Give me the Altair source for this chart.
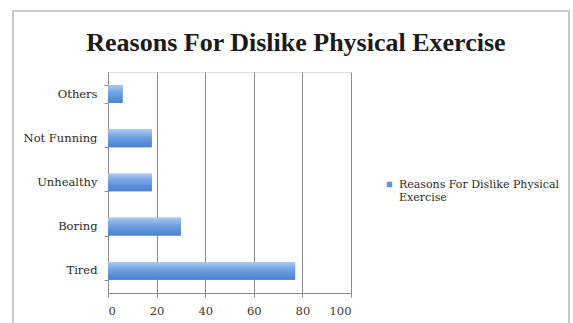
import altair as alt
import pandas as pd

categories = ["Tired", "Boring", "Unhealthy", "Not Funning", "Others"]
values = [77, 30, 18, 18, 6]
series_name = "Reasons For Dislike Physical Exercise"
x_ticks = [0, 20, 40, 60, 80, 100]

df = pd.DataFrame({"reason": categories, "count": values, "series": series_name})
order = list(reversed(categories))

serif = "Liberation Serif"
lab = "DejaVu Serif"

y_enc = alt.Y("reason:N", sort=order, title=None,
              scale=alt.Scale(paddingInner=0.6, paddingOuter=0.3),
              axis=alt.Axis(labelFont=lab, labelFontSize=11.5, labelColor="#2a2a2a",
                            domainColor="#8c8c8c", tickColor="#8c8c8c", tickSize=4,
                            tickBand="extent", labelPadding=7, grid=False))
x_enc = alt.X("count:Q", title=None,
              scale=alt.Scale(domain=[0, 100], nice=False),
              axis=alt.Axis(values=x_ticks, labelFont=lab, labelFontSize=11.5,
                            labelColor="#3a3a3a", domainColor="#8c8c8c",
                            tickColor="#8c8c8c", tickSize=4, labelPadding=8,
                            gridColor="#8a8a8a", gridWidth=1))

frame = alt.Chart(df).mark_rect(fillOpacity=0, stroke="#c8c8c8", strokeWidth=1.5).encode(
    x=alt.value(-95), x2=alt.value(461), y=alt.value(-61), y2=alt.value(262)
)

legend_bars = alt.Chart(df).mark_bar().encode(
    y=y_enc, x=x_enc,
    color=alt.Color("series:N", scale=alt.Scale(range=["#5f93dc"]), title=None,
                    legend=alt.Legend(orient="none", legendX=276, legendY=107,
                                      symbolType="square", symbolSize=30,
                                      labelFont=lab, labelFontSize=11,
                                      labelColor="#2a2a2a", labelLimit=400,
                                      labelExpr="['Reasons For Dislike Physical', 'Exercise']"))
)

grad = alt.Gradient(gradient="linear", x1=0, x2=0, y1=0, y2=1,
                    stops=[alt.GradientStop(color="#a9c9f2", offset=0),
                           alt.GradientStop(color="#6d9fe2", offset=0.45),
                           alt.GradientStop(color="#4a80d0", offset=1)])

bars = alt.Chart(df).mark_bar(fill=grad).encode(y=y_enc, x=x_enc)

chart = alt.layer(frame, legend_bars, bars).properties(
    width=243, height=221,
    autosize=alt.AutoSizeParams(type="none"),
    padding={"left": 108, "top": 72, "right": 222, "bottom": 30},
    title=alt.TitleParams(series_name, font=serif, fontSize=26, fontWeight="bold",
                          color="#1a1a1a", anchor="start", dx=74, offset=0, dy=46),
).configure_view(stroke=None).configure(background="white")

chart.save("out.html", embed_options={"renderer": "svg", "actions": False})
